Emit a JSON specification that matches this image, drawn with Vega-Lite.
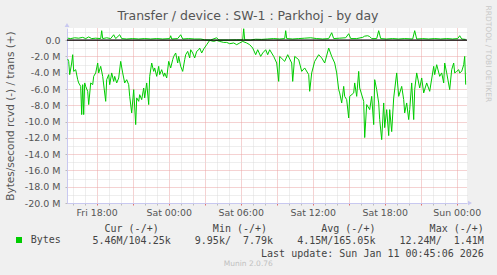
{
 "$schema": "https://vega.github.io/schema/vega-lite/v6.json",
 "width": 400,
 "height": 175,
 "autosize": "none",
 "padding": {"left": 67, "top": 28, "right": 30, "bottom": 72},
 "background": "#f0f0f0",
 "config": {"font": "DejaVu Sans", "view": {"fill": "#ffffff", "stroke": null}},
 "title": {"text": "Transfer / device : SW-1 : Parkhoj - by day", "anchor": "middle", "frame": "group", "dx": -19, "offset": -27, "baseline": "alphabetic", "fontSize": 12.5, "fontWeight": "normal", "color": "#555555", "font": "DejaVu Sans"},
 "datasets": {
  "rcvd": [
   {"t":"2026-01-09T15:35","v":-2.31},{"t":"2026-01-09T15:40","v":-2.60},{"t":"2026-01-09T15:45","v":-4.23},{"t":"2026-01-09T15:55","v":-2.80},{"t":"2026-01-09T16:00","v":-1.78},{"t":"2026-01-09T16:05","v":-3.83},{"t":"2026-01-09T16:15","v":-3.62},{"t":"2026-01-09T16:25","v":-4.85},{"t":"2026-01-09T16:30","v":-5.25},{"t":"2026-01-09T16:40","v":-5.67},{"t":"2026-01-09T16:45","v":-9.14},{"t":"2026-01-09T16:50","v":-5.46},{"t":"2026-01-09T16:55","v":-9.14},{"t":"2026-01-09T17:00","v":-5.25},{"t":"2026-01-09T17:05","v":-5.67},{"t":"2026-01-09T17:15","v":-6.28},{"t":"2026-01-09T17:20","v":-7.91},{"t":"2026-01-09T17:30","v":-5.25},{"t":"2026-01-09T17:40","v":-5.46},{"t":"2026-01-09T17:45","v":-4.44},{"t":"2026-01-09T17:55","v":-4.02},{"t":"2026-01-09T18:05","v":-2.80},{"t":"2026-01-09T18:10","v":-4.02},{"t":"2026-01-09T18:20","v":-3.21},{"t":"2026-01-09T18:30","v":-4.44},{"t":"2026-01-09T18:45","v":-7.51},{"t":"2026-01-09T18:50","v":-4.85},{"t":"2026-01-09T19:00","v":-4.23},{"t":"2026-01-09T19:05","v":-5.46},{"t":"2026-01-09T19:15","v":-4.02},{"t":"2026-01-09T19:25","v":-5.06},{"t":"2026-01-09T19:30","v":-4.44},{"t":"2026-01-09T19:40","v":-5.25},{"t":"2026-01-09T19:50","v":-4.64},{"t":"2026-01-09T20:00","v":-2.60},{"t":"2026-01-09T20:10","v":-4.02},{"t":"2026-01-09T20:20","v":-5.25},{"t":"2026-01-09T20:30","v":-4.85},{"t":"2026-01-09T20:40","v":-5.46},{"t":"2026-01-09T20:45","v":-6.90},{"t":"2026-01-09T20:55","v":-8.93},{"t":"2026-01-09T21:05","v":-6.07},{"t":"2026-01-09T21:15","v":-10.37},{"t":"2026-01-09T21:20","v":-7.09},{"t":"2026-01-09T21:30","v":-7.51},{"t":"2026-01-09T21:35","v":-6.69},{"t":"2026-01-09T21:45","v":-7.30},{"t":"2026-01-09T21:55","v":-5.87},{"t":"2026-01-09T22:00","v":-7.09},{"t":"2026-01-09T22:10","v":-5.25},{"t":"2026-01-09T22:20","v":-7.91},{"t":"2026-01-09T22:25","v":-4.44},{"t":"2026-01-09T22:35","v":-2.80},{"t":"2026-01-09T22:45","v":-3.83},{"t":"2026-01-09T22:50","v":-3.41},{"t":"2026-01-09T23:00","v":-4.44},{"t":"2026-01-09T23:10","v":-3.21},{"t":"2026-01-09T23:15","v":-4.23},{"t":"2026-01-09T23:25","v":-3.62},{"t":"2026-01-09T23:35","v":-4.44},{"t":"2026-01-09T23:40","v":-4.02},{"t":"2026-01-09T23:50","v":-4.64},
   {"t":"2026-01-10T00:00","v":-2.60},{"t":"2026-01-10T00:10","v":-3.41},{"t":"2026-01-10T00:20","v":-2.39},{"t":"2026-01-10T00:25","v":-1.99},{"t":"2026-01-10T00:35","v":-1.57},{"t":"2026-01-10T00:45","v":-2.80},{"t":"2026-01-10T00:50","v":-1.99},{"t":"2026-01-10T01:00","v":-3.21},{"t":"2026-01-10T01:10","v":-3.83},{"t":"2026-01-10T01:20","v":-2.39},{"t":"2026-01-10T01:25","v":-1.78},{"t":"2026-01-10T01:35","v":-1.37},{"t":"2026-01-10T01:45","v":-2.18},{"t":"2026-01-10T01:50","v":-1.17},{"t":"2026-01-10T02:00","v":-1.57},{"t":"2026-01-10T02:10","v":-2.18},{"t":"2026-01-10T02:20","v":-1.37},{"t":"2026-01-10T02:30","v":-1.17},{"t":"2026-01-10T02:35","v":-0.96},{"t":"2026-01-10T02:45","v":-1.57},{"t":"2026-01-10T02:55","v":-1.08},{"t":"2026-01-10T03:10","v":-0.55},{"t":"2026-01-10T03:25","v":-0.02},{"t":"2026-01-10T03:45","v":-0.15},{"t":"2026-01-10T04:00","v":-0.02},{"t":"2026-01-10T04:15","v":-0.15},{"t":"2026-01-10T04:35","v":-0.27},{"t":"2026-01-10T04:50","v":-0.27},{"t":"2026-01-10T05:05","v":-0.43},{"t":"2026-01-10T05:25","v":-0.34},{"t":"2026-01-10T05:40","v":-0.55},{"t":"2026-01-10T05:55","v":-0.34},{"t":"2026-01-10T06:10","v":-0.15},{"t":"2026-01-10T06:30","v":-0.34},{"t":"2026-01-10T06:45","v":-0.55},{"t":"2026-01-10T07:00","v":-0.96},{"t":"2026-01-10T07:15","v":-1.78},{"t":"2026-01-10T07:25","v":-1.17},{"t":"2026-01-10T07:40","v":-1.99},{"t":"2026-01-10T07:50","v":-1.57},{"t":"2026-01-10T08:05","v":-1.17},{"t":"2026-01-10T08:15","v":-1.78},{"t":"2026-01-10T08:25","v":-1.17},{"t":"2026-01-10T08:45","v":-1.99},{"t":"2026-01-10T09:00","v":-2.80},{"t":"2026-01-10T09:10","v":-5.06},{"t":"2026-01-10T09:15","v":-1.99},{"t":"2026-01-10T09:40","v":-2.60},{"t":"2026-01-10T09:55","v":-1.78},{"t":"2026-01-10T10:15","v":-2.80},{"t":"2026-01-10T10:20","v":-5.06},{"t":"2026-01-10T10:30","v":-1.99},{"t":"2026-01-10T10:50","v":-2.39},{"t":"2026-01-10T11:05","v":-3.83},{"t":"2026-01-10T11:20","v":-3.41},{"t":"2026-01-10T11:40","v":-4.23},{"t":"2026-01-10T11:45","v":-6.28},{"t":"2026-01-10T11:55","v":-4.02},{"t":"2026-01-10T12:10","v":-2.60},{"t":"2026-01-10T12:30","v":-1.78},{"t":"2026-01-10T12:45","v":-2.18},{"t":"2026-01-10T13:00","v":-2.80},{"t":"2026-01-10T13:20","v":-0.96},{"t":"2026-01-10T13:35","v":-1.99},{"t":"2026-01-10T13:50","v":-2.80},{"t":"2026-01-10T14:00","v":-4.02},{"t":"2026-01-10T14:10","v":-6.07},{"t":"2026-01-10T14:15","v":-6.48},{"t":"2026-01-10T14:25","v":-7.71},{"t":"2026-01-10T14:35","v":-5.67},{"t":"2026-01-10T14:40","v":-6.90},{"t":"2026-01-10T14:50","v":-7.30},{"t":"2026-01-10T15:00","v":-9.55},{"t":"2026-01-10T15:05","v":-6.90},{"t":"2026-01-10T15:25","v":-6.48},{"t":"2026-01-10T15:30","v":-5.25},{"t":"2026-01-10T15:40","v":-6.90},{"t":"2026-01-10T15:50","v":-3.83},{"t":"2026-01-10T15:55","v":-5.87},{"t":"2026-01-10T16:15","v":-7.51},{"t":"2026-01-10T16:20","v":-11.96},{"t":"2026-01-10T16:30","v":-7.91},{"t":"2026-01-10T16:45","v":-8.53},{"t":"2026-01-10T16:55","v":-6.90},{"t":"2026-01-10T17:05","v":-10.37},{"t":"2026-01-10T17:10","v":-4.85},{"t":"2026-01-10T17:20","v":-6.07},{"t":"2026-01-10T17:30","v":-7.71},{"t":"2026-01-10T17:35","v":-9.75},{"t":"2026-01-10T17:45","v":-12.21},{"t":"2026-01-10T17:55","v":-7.71},{"t":"2026-01-10T18:00","v":-10.74},{"t":"2026-01-10T18:10","v":-8.53},{"t":"2026-01-10T18:20","v":-11.72},{"t":"2026-01-10T18:25","v":-8.53},{"t":"2026-01-10T18:35","v":-11.23},{"t":"2026-01-10T18:45","v":-7.09},{"t":"2026-01-10T19:00","v":-4.02},{"t":"2026-01-10T19:10","v":-6.90},{"t":"2026-01-10T19:25","v":-5.67},{"t":"2026-01-10T19:35","v":-7.30},{"t":"2026-01-10T19:40","v":-8.93},{"t":"2026-01-10T19:50","v":-7.71},{"t":"2026-01-10T20:00","v":-9.75},{"t":"2026-01-10T20:05","v":-8.53},{"t":"2026-01-10T20:15","v":-5.25},{"t":"2026-01-10T20:25","v":-9.75},{"t":"2026-01-10T20:30","v":-6.07},{"t":"2026-01-10T20:40","v":-4.02},{"t":"2026-01-10T20:55","v":-5.87},{"t":"2026-01-10T21:05","v":-4.64},{"t":"2026-01-10T21:15","v":-6.48},{"t":"2026-01-10T21:30","v":-5.25},{"t":"2026-01-10T21:45","v":-6.28},{"t":"2026-01-10T22:05","v":-3.21},{"t":"2026-01-10T22:10","v":-4.23},{"t":"2026-01-10T22:20","v":-3.01},{"t":"2026-01-10T22:35","v":-4.44},{"t":"2026-01-10T22:45","v":-4.02},{"t":"2026-01-10T22:55","v":-5.25},{"t":"2026-01-10T23:00","v":-2.80},{"t":"2026-01-10T23:10","v":-4.02},{"t":"2026-01-10T23:25","v":-6.07},{"t":"2026-01-10T23:35","v":-3.62},{"t":"2026-01-10T23:45","v":-2.80},{"t":"2026-01-10T23:50","v":-4.02},
   {"t":"2026-01-11T00:00","v":-3.83},{"t":"2026-01-11T00:10","v":-3.62},{"t":"2026-01-11T00:15","v":-4.02},{"t":"2026-01-11T00:25","v":-3.83},{"t":"2026-01-11T00:35","v":-3.01},{"t":"2026-01-11T00:40","v":-1.99},{"t":"2026-01-11T00:45","v":-5.46}
  ],
  "trans": [
   {"t":"2026-01-09T15:35","v":0.25},{"t":"2026-01-09T15:50","v":0.2},{"t":"2026-01-09T16:10","v":0.3},{"t":"2026-01-09T16:30","v":0.25},{"t":"2026-01-09T16:50","v":0.35},{"t":"2026-01-09T17:05","v":0.2},{"t":"2026-01-09T17:20","v":0.4},{"t":"2026-01-09T17:35","v":0.2},{"t":"2026-01-09T17:55","v":0.25},{"t":"2026-01-09T18:20","v":0.2},{"t":"2026-01-09T18:25","v":1.17},{"t":"2026-01-09T18:30","v":0.2},{"t":"2026-01-09T18:50","v":0.3},{"t":"2026-01-09T19:10","v":0.2},{"t":"2026-01-09T19:25","v":0.67},{"t":"2026-01-09T19:35","v":0.2},{"t":"2026-01-09T19:55","v":0.67},{"t":"2026-01-09T20:05","v":0.2},{"t":"2026-01-09T20:30","v":0.15},{"t":"2026-01-09T21:00","v":0.2},{"t":"2026-01-09T21:30","v":0.15},{"t":"2026-01-09T22:00","v":0.2},{"t":"2026-01-09T22:30","v":0.15},{"t":"2026-01-09T23:00","v":0.2},{"t":"2026-01-09T23:30","v":0.15},
   {"t":"2026-01-10T00:05","v":0.2},{"t":"2026-01-10T00:10","v":0.55},{"t":"2026-01-10T00:15","v":0.15},{"t":"2026-01-10T00:45","v":0.2},{"t":"2026-01-10T01:00","v":0.67},{"t":"2026-01-10T01:10","v":0.15},{"t":"2026-01-10T01:40","v":0.2},{"t":"2026-01-10T02:10","v":0.15},{"t":"2026-01-10T02:40","v":0.15},{"t":"2026-01-10T03:00","v":0.05},{"t":"2026-01-10T03:30","v":0.03},{"t":"2026-01-10T04:00","v":0.3},{"t":"2026-01-10T04:10","v":0.03},{"t":"2026-01-10T05:00","v":0.03},{"t":"2026-01-10T05:40","v":0.05},{"t":"2026-01-10T06:10","v":0.05},{"t":"2026-01-10T06:15","v":1.41},{"t":"2026-01-10T06:20","v":0.05},{"t":"2026-01-10T06:50","v":0.03},{"t":"2026-01-10T07:15","v":0.12},{"t":"2026-01-10T07:45","v":0.1},{"t":"2026-01-10T08:15","v":0.15},{"t":"2026-01-10T08:45","v":0.2},{"t":"2026-01-10T09:15","v":0.15},{"t":"2026-01-10T09:40","v":0.2},{"t":"2026-01-10T09:45","v":1.17},{"t":"2026-01-10T09:50","v":0.2},{"t":"2026-01-10T10:20","v":0.15},{"t":"2026-01-10T10:50","v":0.2},{"t":"2026-01-10T11:20","v":0.25},{"t":"2026-01-10T11:50","v":0.3},{"t":"2026-01-10T12:20","v":0.2},{"t":"2026-01-10T12:50","v":0.15},{"t":"2026-01-10T13:20","v":0.2},{"t":"2026-01-10T13:35","v":0.92},{"t":"2026-01-10T13:45","v":0.2},{"t":"2026-01-10T14:15","v":0.25},{"t":"2026-01-10T14:45","v":0.3},{"t":"2026-01-10T15:00","v":0.8},{"t":"2026-01-10T15:10","v":0.2},{"t":"2026-01-10T15:40","v":0.2},{"t":"2026-01-10T16:10","v":0.35},{"t":"2026-01-10T16:20","v":0.5},{"t":"2026-01-10T16:35","v":0.55},{"t":"2026-01-10T16:45","v":0.45},{"t":"2026-01-10T16:55","v":0.2},{"t":"2026-01-10T17:20","v":0.2},{"t":"2026-01-10T17:30","v":1.17},{"t":"2026-01-10T17:40","v":0.2},{"t":"2026-01-10T18:10","v":0.15},{"t":"2026-01-10T18:40","v":0.2},{"t":"2026-01-10T19:10","v":0.15},{"t":"2026-01-10T19:40","v":0.2},{"t":"2026-01-10T20:20","v":0.15},{"t":"2026-01-10T20:30","v":1.17},{"t":"2026-01-10T20:40","v":0.15},{"t":"2026-01-10T21:10","v":0.2},{"t":"2026-01-10T21:40","v":0.15},{"t":"2026-01-10T22:10","v":0.2},{"t":"2026-01-10T22:40","v":0.15},{"t":"2026-01-10T23:10","v":0.2},{"t":"2026-01-10T23:40","v":0.15},
   {"t":"2026-01-11T00:05","v":0.2},{"t":"2026-01-11T00:15","v":0.55},{"t":"2026-01-11T00:25","v":0.15},{"t":"2026-01-11T00:45","v":0.1}
  ],
  "zero": [{"v": 0}],
  "arrows": [{"a": "up"}, {"a": "right"}]
 },
 "layer": [
  {
   "data": {"name": "trans"},
   "mark": {"type": "line", "strokeWidth": 1},
   "encoding": {
    "x": {"field": "t", "type": "temporal",
     "scale": {"domain": [{"year": 2026, "month": 1, "date": 9, "hours": 15, "minutes": 31, "seconds": 30}, {"year": 2026, "month": 1, "date": 11, "hours": 0, "minutes": 51, "seconds": 30}], "nice": false},
     "axis": {"orient": "bottom", "labels": false, "domain": false,
      "values": [
       {"year": 2026, "month": 1, "date": 9, "hours": 16}, {"year": 2026, "month": 1, "date": 9, "hours": 17}, {"year": 2026, "month": 1, "date": 9, "hours": 19}, {"year": 2026, "month": 1, "date": 9, "hours": 20}, {"year": 2026, "month": 1, "date": 9, "hours": 22}, {"year": 2026, "month": 1, "date": 9, "hours": 23},
       {"year": 2026, "month": 1, "date": 10, "hours": 1}, {"year": 2026, "month": 1, "date": 10, "hours": 2}, {"year": 2026, "month": 1, "date": 10, "hours": 4}, {"year": 2026, "month": 1, "date": 10, "hours": 5}, {"year": 2026, "month": 1, "date": 10, "hours": 7}, {"year": 2026, "month": 1, "date": 10, "hours": 8}, {"year": 2026, "month": 1, "date": 10, "hours": 10}, {"year": 2026, "month": 1, "date": 10, "hours": 11}, {"year": 2026, "month": 1, "date": 10, "hours": 13}, {"year": 2026, "month": 1, "date": 10, "hours": 14}, {"year": 2026, "month": 1, "date": 10, "hours": 16}, {"year": 2026, "month": 1, "date": 10, "hours": 17}, {"year": 2026, "month": 1, "date": 10, "hours": 19}, {"year": 2026, "month": 1, "date": 10, "hours": 20}, {"year": 2026, "month": 1, "date": 10, "hours": 22}, {"year": 2026, "month": 1, "date": 10, "hours": 23}
      ],
      "ticks": true, "tickSize": 2, "tickColor": "#bbbbbb",
      "grid": true, "gridColor": "#dcdcdc", "gridDash": [1, 1],
      "title": "Munin 2.0.76", "titleFont": "DejaVu Sans", "titleFontSize": 7.5, "titleFontWeight": "normal", "titleColor": "#c0c0c0",
      "titleAlign": "center", "titleBaseline": "middle", "titleX": 180.8, "titleY": 60.7}},
    "y": {"field": "v", "type": "quantitative",
     "scale": {"domain": [-20, 1.5], "nice": false, "zero": false},
     "axis": {"orient": "right", "labels": false, "ticks": false, "domain": false,
      "values": [-19, -17, -15, -13, -11, -9, -7, -5, -3, -1, 1],
      "grid": true, "gridColor": "#dcdcdc", "gridDash": [1, 1],
      "title": "RRDTOOL / TOBI OETIKER", "titleAngle": 90, "titleFontSize": 7.5, "titleFontWeight": "normal", "titleColor": "#c8c8c8",
      "titleAlign": "center", "titleBaseline": "middle", "titleX": 20.5, "titleY": 25.3}},
    "color": {"datum": "Bytes", "scale": {"range": ["#00cc00"]},
     "legend": {"orient": "none", "legendX": -53, "legendY": 207, "title": null, "padding": 0,
      "symbolType": "square", "symbolSize": 36, "symbolFillColor": "#00cc00", "symbolStrokeColor": "#00cc00", "symbolStrokeWidth": 0,
      "labelFont": "DejaVu Sans Mono", "labelFontSize": 10, "labelColor": "#444444", "labelOffset": 6.7}}
   }
  },
  {
   "data": {"name": "rcvd"},
   "mark": {"type": "line", "strokeWidth": 1},
   "encoding": {
    "x": {"field": "t", "type": "temporal",
     "axis": {"orient": "bottom",
      "values": [
       {"year": 2026, "month": 1, "date": 9, "hours": 18}, {"year": 2026, "month": 1, "date": 9, "hours": 21},
       {"year": 2026, "month": 1, "date": 10, "hours": 0}, {"year": 2026, "month": 1, "date": 10, "hours": 3}, {"year": 2026, "month": 1, "date": 10, "hours": 6}, {"year": 2026, "month": 1, "date": 10, "hours": 9}, {"year": 2026, "month": 1, "date": 10, "hours": 12}, {"year": 2026, "month": 1, "date": 10, "hours": 15}, {"year": 2026, "month": 1, "date": 10, "hours": 18}, {"year": 2026, "month": 1, "date": 10, "hours": 21},
       {"year": 2026, "month": 1, "date": 11, "hours": 0}
      ],
      "labelExpr": "hours(datum.value) % 6 === 0 ? timeFormat(datum.value, '%a %H:%M') : ''",
      "labelFontSize": 9.4, "labelColor": "#555555", "labelOverlap": false, "labelFlush": false, "labelPadding": 3,
      "tickSize": 2, "tickColor": "#e07070",
      "grid": true, "gridColor": "#eba5a5", "gridDash": [1, 1],
      "domainColor": "#c8c8f0",
      "title": ["Cur (-/+)\u00a0\u00a0\u00a0\u00a0\u00a0\u00a0\u00a0\u00a0\u00a0Min (-/+)\u00a0\u00a0\u00a0\u00a0\u00a0\u00a0\u00a0\u00a0\u00a0Avg (-/+)\u00a0\u00a0\u00a0\u00a0\u00a0\u00a0\u00a0\u00a0\u00a0Max (-/+)\u00a0", "5.46M/104.25k\u00a0\u00a0\u00a0\u00a09.95k/\u00a0\u00a07.79k\u00a0\u00a0\u00a0\u00a04.15M/165.05k\u00a0\u00a0\u00a0\u00a012.24M/\u00a0\u00a01.41M", "Last update: Sun Jan 11 00:45:06 2026"],
      "titleFont": "DejaVu Sans Mono", "titleFontSize": 10, "titleFontWeight": "normal", "titleColor": "#444444",
      "titleAlign": "right", "titleBaseline": "top", "titleX": 416.3, "titleY": 20.7, "titleLineHeight": 12.2}
    },
    "y": {"field": "v", "type": "quantitative",
     "axis": {"orient": "left", "values": [-20, -18, -16, -14, -12, -10, -8, -6, -4, -2, 0],
      "labelExpr": "datum.value === 0 ? '0.0' : '-' + format(abs(datum.value), '.1f') + ' M'",
      "labelFontSize": 9.5, "labelColor": "#555555", "labelPadding": 5, "labelOverlap": false,
      "tickSize": 2, "tickColor": "#bbbbbb",
      "grid": true, "gridColor": "#eba5a5", "gridDash": [1, 1],
      "domainColor": "#c8c8f0",
      "title": "Bytes/second rcvd (-) / trans (+)", "titleFontSize": 10.5, "titleFontWeight": "normal", "titleColor": "#555555",
      "titleAlign": "center", "titleBaseline": "middle", "titleX": -56.5, "titleY": 87.5}
    },
    "color": {"datum": "Bytes"}
   }
  },
  {
   "data": {"name": "zero"},
   "mark": {"type": "rule", "color": "#000000", "strokeWidth": 1.2},
   "encoding": {"y": {"field": "v", "type": "quantitative", "axis": null}}
  },
  {
   "data": {"name": "arrows"},
   "transform": [{"filter": "datum.a === 'up'"}],
   "mark": {"type": "point", "shape": "triangle-up", "filled": true, "color": "#c8c8f0", "size": 22, "opacity": 1, "yOffset": -3},
   "encoding": {
    "x": {"datum": {"year": 2026, "month": 1, "date": 9, "hours": 15, "minutes": 31, "seconds": 30}, "type": "temporal", "axis": null},
    "y": {"datum": 1.5, "type": "quantitative", "axis": null}
   }
  },
  {
   "data": {"name": "arrows"},
   "transform": [{"filter": "datum.a === 'right'"}],
   "mark": {"type": "point", "shape": "triangle-right", "filled": true, "color": "#c8c8f0", "size": 22, "opacity": 1, "xOffset": 3},
   "encoding": {
    "x": {"datum": {"year": 2026, "month": 1, "date": 11, "hours": 0, "minutes": 51, "seconds": 30}, "type": "temporal", "axis": null},
    "y": {"datum": -20, "type": "quantitative", "axis": null}
   }
  }
 ],
 "resolve": {"axis": {"x": "independent", "y": "independent"}}
}
